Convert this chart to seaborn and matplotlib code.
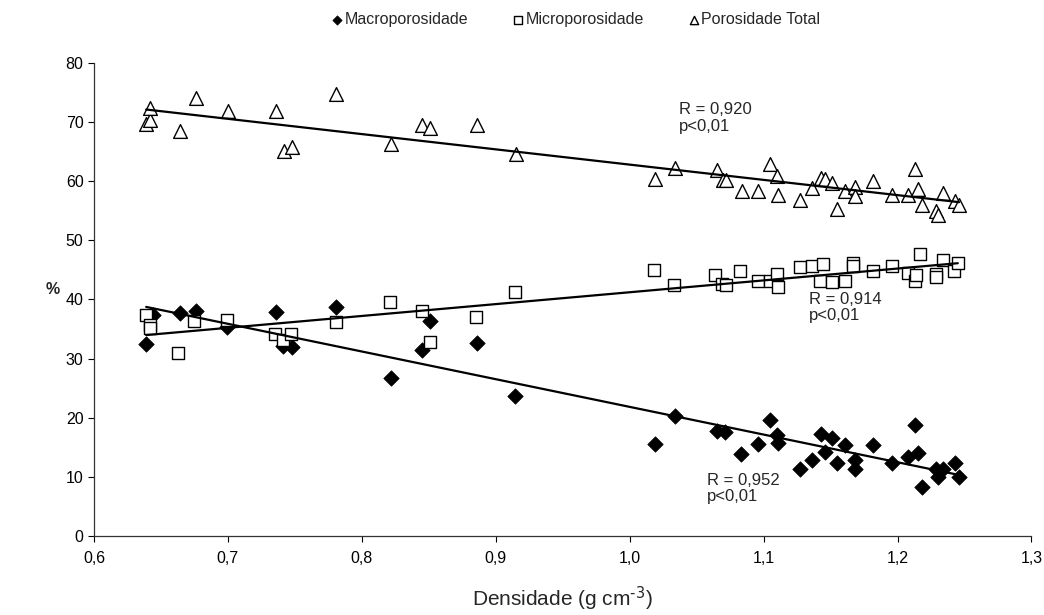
import numpy as np
import pandas as pd
import matplotlib
matplotlib.use("Agg")
import matplotlib.pyplot as plt
import seaborn as sns

# values
macro_x = [0.639, 0.644, 0.664, 0.676, 0.699, 0.736, 0.741, 0.748, 0.781, 0.822,
           0.845, 0.851, 0.886, 0.914, 1.019, 1.034, 1.065, 1.071, 1.083, 1.096,
           1.105, 1.110, 1.111, 1.127, 1.136, 1.143, 1.146, 1.151, 1.155, 1.161,
           1.168, 1.168, 1.182, 1.196, 1.208, 1.213, 1.215, 1.218, 1.229, 1.230,
           1.234, 1.243, 1.246]
macro_y = [32.5, 37.3, 37.7, 38.0, 35.3, 37.9, 32.1, 31.9, 38.7, 26.7,
           31.4, 36.3, 32.7, 23.6, 15.6, 20.3, 17.8, 17.6, 13.8, 15.6,
           19.6, 17.0, 15.7, 11.4, 12.9, 17.3, 14.2, 16.5, 12.3, 15.4,
           12.8, 11.4, 15.4, 12.3, 13.4, 18.7, 14.1, 8.2, 11.4, 10.0,
           11.4, 12.3, 10.0]

micro_x = [0.639, 0.642, 0.642, 0.663, 0.675, 0.699, 0.735, 0.741, 0.747, 0.781,
           0.821, 0.845, 0.851, 0.885, 0.914, 1.018, 1.033, 1.064, 1.069, 1.072,
           1.082, 1.096, 1.105, 1.110, 1.111, 1.127, 1.136, 1.142, 1.144, 1.151,
           1.161, 1.167, 1.167, 1.182, 1.196, 1.208, 1.213, 1.214, 1.217, 1.229,
           1.229, 1.234, 1.242, 1.245]
micro_y = [37.3, 35.6, 35.1, 31.0, 36.3, 36.5, 34.2, 33.1, 34.2, 36.2,
           39.5, 38.1, 32.8, 37.0, 41.2, 45.0, 42.4, 44.2, 42.6, 42.4,
           44.8, 43.1, 43.1, 44.3, 42.1, 45.5, 45.7, 43.1, 46.0, 42.9,
           43.1, 46.1, 45.7, 44.8, 45.7, 44.4, 43.1, 44.1, 47.7, 44.3,
           43.8, 46.7, 44.8, 46.1]

total_x = [0.639, 0.642, 0.642, 0.664, 0.676, 0.700, 0.736, 0.742, 0.748, 0.781,
           0.822, 0.845, 0.851, 0.886, 0.915, 1.019, 1.034, 1.065, 1.070, 1.072,
           1.084, 1.096, 1.105, 1.110, 1.111, 1.127, 1.136, 1.143, 1.146, 1.151,
           1.155, 1.161, 1.168, 1.168, 1.182, 1.196, 1.208, 1.213, 1.215, 1.218,
           1.229, 1.230, 1.234, 1.243, 1.246]
total_y = [69.6, 70.3, 72.3, 68.5, 74.0, 71.8, 71.8, 65.1, 65.8, 74.7,
           66.2, 69.4, 68.9, 69.5, 64.6, 60.4, 62.2, 61.9, 60.1, 60.1,
           58.4, 58.4, 62.9, 60.9, 57.7, 56.8, 58.9, 60.5, 60.4, 59.6,
           55.3, 58.4, 59.0, 57.4, 60.0, 57.7, 57.7, 62.1, 58.7, 55.9,
           55.0, 54.3, 57.9, 56.7, 55.9]

series_names = ['Macroporosidade', 'Microporosidade', 'Porosidade Total']
annot_text = ['R = 0,952\np<0,01', 'R = 0,914\np<0,01', 'R = 0,920\np<0,01']
annot_pos = [(1.058, 10.6), (1.134, 41.2), (1.037, 73.3)]

x_ticks = [0.6, 0.7, 0.8, 0.9, 1.0, 1.1, 1.2, 1.3]
x_ticklabels = ['0,6', '0,7', '0,8', '0,9', '1,0', '1,1', '1,2', '1,3']
y_ticks = [0, 10, 20, 30, 40, 50, 60, 70, 80]

sns.set_style('ticks')
plt.rcParams['font.family'] = ['Liberation Sans', 'DejaVu Sans']
plt.rcParams['mathtext.default'] = 'regular'

df = pd.concat([
    pd.DataFrame({'dens': macro_x, 'val': macro_y, 'serie': series_names[0]}),
    pd.DataFrame({'dens': micro_x, 'val': micro_y, 'serie': series_names[1]}),
    pd.DataFrame({'dens': total_x, 'val': total_y, 'serie': series_names[2]}),
])

fig = plt.figure(figsize=(10.44, 6.15), dpi=100)
ax = fig.add_axes([0.090, 0.1285, 0.898, 0.7695])

styles = {
    series_names[0]: dict(marker='D', s=62, color='black', edgecolor='black', linewidth=0.5),
    series_names[1]: dict(marker='s', s=80, color='white', edgecolor='black', linewidth=1.0),
    series_names[2]: dict(marker='^', s=98, color='white', edgecolor='black', linewidth=1.0),
}

for i, name in enumerate(series_names):
    sub = df[df['serie'] == name]
    sns.scatterplot(data=sub, x='dens', y='val', ax=ax, zorder=2 + i,
                    label=name, **styles[name])
    sns.regplot(data=sub, x='dens', y='val', ax=ax, scatter=False, ci=None,
                truncate=True, color='black', line_kws={'linewidth': 1.6, 'zorder': 6})

for txt, (tx, ty) in zip(annot_text, annot_pos):
    ax.text(tx, ty, txt, fontsize=12, va='top', ha='left', linespacing=1.1)

ax.set_xlim(0.6, 1.3)
ax.set_ylim(0, 80)
ax.set_xticks(x_ticks)
ax.set_xticklabels(x_ticklabels)
ax.set_yticks(y_ticks)
ax.tick_params(labelsize=11.5, length=4, width=0.8, colors='black')
ax.tick_params(axis='x', pad=7)
sns.despine(ax=ax)
for sp in ['left', 'bottom']:
    ax.spines[sp].set_color('#333333')
    ax.spines[sp].set_linewidth(0.9)

ax.set_xlabel(r'Densidade (g cm$^{\text{-3}}$)', fontsize=15, labelpad=13)
ax.set_ylabel('%', fontsize=11.5, fontweight='bold', rotation=0, va='center')
ax.yaxis.set_label_coords(-0.044, 0.52)

h, l = ax.get_legend_handles_labels()
ax.legend_.remove()
fig.legend(h, l, loc='center', bbox_to_anchor=(0.551, 0.968), ncol=3, frameon=False,
           fontsize=11.5, handletextpad=0.0, columnspacing=2.7, markerscale=0.6,
           handlelength=0.9)

plt.savefig('out.png', dpi=100)
plt.close()
